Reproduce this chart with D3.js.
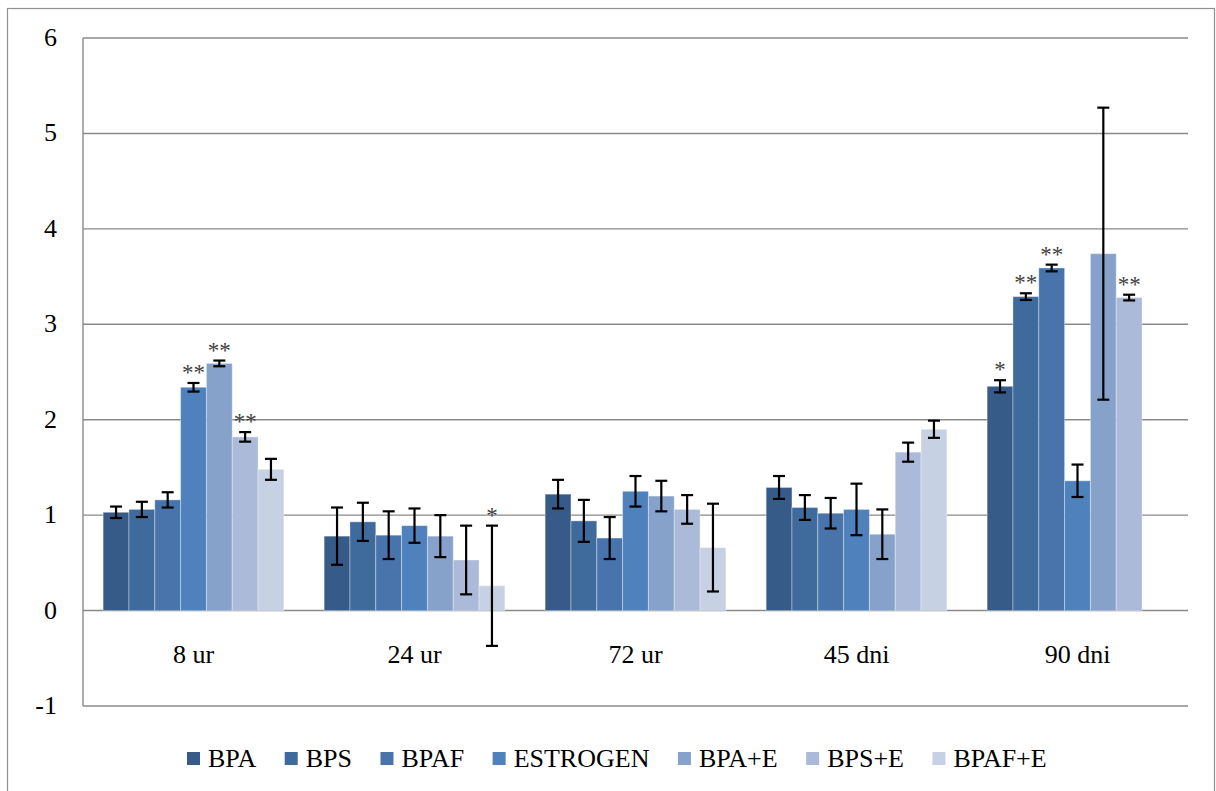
<!DOCTYPE html>
<html>
<head>
<meta charset="utf-8">
<script src="https://cdn.jsdelivr.net/npm/d3@7"></script>
<style>
  html, body { margin: 0; padding: 0; background: #fff; }
  svg { display: block; }
  svg text { font-family: "Liberation Serif", "DejaVu Serif", serif; }
</style>
</head>
<body>
<svg id="chart" width="1216" height="791"></svg>
<script>
// Time points (groups on the x axis)
const categories = ["8 ur", "24 ur", "72 ur", "45 dni", "90 dni"];

// Treatments (one bar per treatment in each group)
const series = ["BPA", "BPS", "BPAF", "ESTROGEN", "BPA+E", "BPS+E", "BPAF+E"];

// Mean values per treatment, in the order of `categories`
const valBPA      = [1.03, 0.78, 1.22, 1.29, 2.35];
const valBPS      = [1.06, 0.93, 0.94, 1.08, 3.29];
const valBPAF     = [1.16, 0.79, 0.76, 1.02, 3.59];
const valESTROGEN = [2.34, 0.89, 1.25, 1.06, 1.36];
const valBPAE     = [2.59, 0.78, 1.20, 0.80, 3.74];
const valBPSE     = [1.82, 0.53, 1.06, 1.66, 3.28];
const valBPAFE    = [1.48, 0.26, 0.66, 1.90, null];

// Error bar half-lengths (± SD)
const errBPA      = [0.06, 0.30, 0.15, 0.12, 0.064];
const errBPS      = [0.08, 0.20, 0.22, 0.13, 0.035];
const errBPAF     = [0.08, 0.25, 0.22, 0.16, 0.035];
const errESTROGEN = [0.045, 0.18, 0.16, 0.27, 0.17];
const errBPAE     = [0.03, 0.22, 0.16, 0.26, 1.53];
const errBPSE     = [0.05, 0.36, 0.15, 0.10, 0.03];
const errBPAFE    = [0.11, 0.63, 0.46, 0.09, null];

// Significance markers
const sigBPA      = ["", "", "", "", "*"];
const sigBPS      = ["", "", "", "", "**"];
const sigBPAF     = ["", "", "", "", "**"];
const sigESTROGEN = ["**", "", "", "", ""];
const sigBPAE     = ["**", "", "", "", ""];
const sigBPSE     = ["**", "", "", "", "**"];
const sigBPAFE    = ["", "*", "", "", ""];

// Y axis ticks
const yTicks = [-1, 0, 1, 2, 3, 4, 5, 6];

const values = [valBPA, valBPS, valBPAF, valESTROGEN, valBPAE, valBPSE, valBPAFE];
const errors = [errBPA, errBPS, errBPAF, errESTROGEN, errBPAE, errBPSE, errBPAFE];
const sigs   = [sigBPA, sigBPS, sigBPAF, sigESTROGEN, sigBPAE, sigBPSE, sigBPAFE];

const colors = ["#365B88", "#3F6A9C", "#4874AB", "#4F81BC", "#86A2CB", "#AABAD8", "#C6D1E3"];
const FONT = "'Liberation Serif', 'DejaVu Serif', serif";

const svg = d3.select("#chart");

// Outer chart frame
svg.append("rect")
  .attr("x", 7.5).attr("y", 8.5)
  .attr("width", 1207).attr("height", 800)
  .attr("fill", "none").attr("stroke", "#8f8f8f").attr("stroke-width", 1.2);

const plot = { left: 83, right: 1188, top: 38, bottom: 706 };

const x0 = d3.scaleBand().domain(categories).range([plot.left, plot.right]).padding(0);
const x1 = d3.scaleBand().domain(series).range([0, x0.bandwidth()])
  .paddingInner(0).paddingOuter(0.78);
const y = d3.scaleLinear().domain([-1, 6]).range([plot.bottom, plot.top]);

// Horizontal gridlines
svg.append("g").selectAll("line").data(yTicks).join("line")
  .attr("x1", plot.left).attr("x2", plot.right)
  .attr("y1", d => y(d)).attr("y2", d => y(d))
  .attr("stroke", "#8a8a8a").attr("stroke-width", 1.4);

// Vertical axis line
svg.append("line")
  .attr("x1", plot.left).attr("x2", plot.left)
  .attr("y1", plot.top).attr("y2", plot.bottom)
  .attr("stroke", "#8a8a8a").attr("stroke-width", 1.4);

// Y tick labels
svg.append("g").selectAll("text").data(yTicks).join("text")
  .attr("x", 57).attr("y", d => y(d)).attr("dy", "0.31em")
  .attr("text-anchor", "end")
  .attr("font-family", FONT)
  .attr("font-size", 26).attr("fill", "#000")
  .text(d => d);

// Flatten data
const rows = [];
series.forEach((s, si) => {
  categories.forEach((c, ci) => {
    const v = values[si][ci];
    if (v == null) return;
    rows.push({ s, si, c, v, e: errors[si][ci], sig: sigs[si][ci] });
  });
});

// Bars
svg.append("g").selectAll("rect").data(rows).join("rect")
  .attr("x", d => x0(d.c) + x1(d.s))
  .attr("width", x1.bandwidth())
  .attr("y", d => y(Math.max(0, d.v)))
  .attr("height", d => Math.abs(y(d.v) - y(0)))
  .attr("fill", d => colors[d.si])
  .attr("stroke", "rgba(255,255,255,0.35)").attr("stroke-width", 1);

// Error bars
const eb = svg.append("g").attr("stroke", "#000").attr("stroke-width", 2.2);
const cap = 6;
rows.forEach(d => {
  const cx = x0(d.c) + x1(d.s) + x1.bandwidth() / 2;
  const yt = y(d.v + d.e), yb = y(d.v - d.e);
  eb.append("line").attr("x1", cx).attr("x2", cx).attr("y1", yt).attr("y2", yb);
  eb.append("line").attr("x1", cx - cap).attr("x2", cx + cap).attr("y1", yt).attr("y2", yt);
  eb.append("line").attr("x1", cx - cap).attr("x2", cx + cap).attr("y1", yb).attr("y2", yb);
});

// Significance asterisks
svg.append("g").selectAll("text").data(rows.filter(d => d.sig)).join("text")
  .attr("x", d => x0(d.c) + x1(d.s) + x1.bandwidth() / 2)
  .attr("y", d => y(d.v + d.e) - 3)
  .attr("text-anchor", "middle")
  .attr("font-family", FONT)
  .attr("font-size", 23).attr("fill", "#404040")
  .text(d => d.sig);

// Category labels
svg.append("g").selectAll("text").data(categories).join("text")
  .attr("x", d => x0(d) + x0.bandwidth() / 2)
  .attr("y", 663)
  .attr("text-anchor", "middle")
  .attr("font-family", FONT)
  .attr("font-size", 26).attr("fill", "#000")
  .text(d => d);

// Legend
const legend = svg.append("g");
let lx = 187;
const ly = 767;
series.forEach((s, i) => {
  legend.append("rect")
    .attr("x", lx).attr("y", ly - 15).attr("width", 13).attr("height", 13)
    .attr("fill", colors[i]);
  const t = legend.append("text")
    .attr("x", lx + 21).attr("y", ly)
    .attr("font-family", FONT)
    .attr("font-size", 26).attr("fill", "#000")
    .text(s);
  lx += 21 + t.node().getComputedTextLength() + 28.5;
});
</script>
</body>
</html>
